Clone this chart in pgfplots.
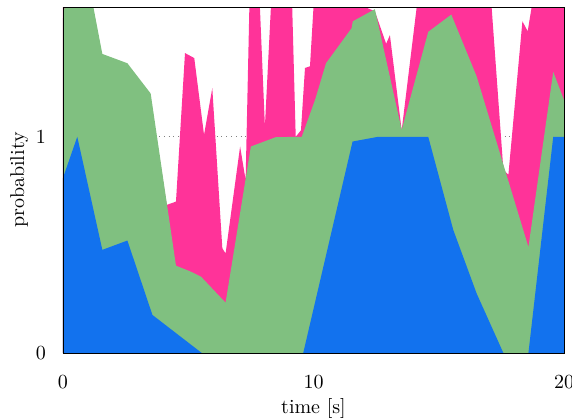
\documentclass[border=0pt]{standalone}
\usepackage{pgfplots}
\pgfplotsset{compat=1.18}
\definecolor{cblue}{RGB}{18,114,238}
\definecolor{cgreen}{RGB}{128,192,128}
\definecolor{cpink}{RGB}{255,51,153}
\begin{document}
\begin{tikzpicture}
\begin{axis}[
  scale only axis, width=250.5pt, height=173pt,
  xmin=0, xmax=20, ymin=0, ymax=1.6,
  xtick={0,10,20}, ytick={0,1},
  xlabel={time [s]}, ylabel={probability},
  xlabel style={yshift=2pt},
  ylabel style={yshift=-3pt},
  ymajorgrids, grid style={dotted, gray},
  tick style={draw=none},
  xticklabel style={yshift=-8pt},
  yticklabel style={xshift=-5pt},
  clip=true,
]
\addplot[fill=cpink, draw=none] coordinates {
 (0,1.65) (0.57,1.5) (1.57,1.3) (2.57,1.3) (3.45,1.205) (4.14,0.685) (4.51,0.70)
 (4.87,1.387) (5.24,1.364) (5.63,1.009) (5.96,1.225) (6.36,0.485) (6.49,0.46)
 (7.07,0.955) (7.29,0.80) (7.44,1.6) (7.86,1.6) (8.06,1.048) (8.3,1.6) (9.15,1.6)
 (9.29,1.0) (9.5,1.03) (9.66,1.318) (9.86,1.326) (10.0,1.6) (12.06,1.6) (12.45,1.58)
 (12.9,1.43) (13.05,1.47) (13.52,1.03) (14.12,1.6) (17.11,1.6) (17.58,0.847)
 (17.78,0.824) (18.34,1.534) (18.55,1.488) (18.71,1.6) (20,1.6)
} \closedcycle;
\addplot[fill=cgreen, draw=none] coordinates {
 (0,1.55) (0.57,1.99) (1.57,1.383) (2.57,1.34) (3.5,1.2) (4.51,0.404) (5.07,0.378)
 (5.51,0.353) (6.49,0.233) (7.5,0.955) (8.49,0.998) (9.53,1.0) (10.06,1.17)
 (10.5,1.34) (11.52,1.502) (11.57,1.534) (12.45,1.59) (13.52,1.032) (14.58,1.485)
 (15.5,1.565) (16.51,1.28) (18.58,0.49) (19.57,1.30) (20,1.17)
} \closedcycle;
\addplot[fill=cblue, draw=none] coordinates {
 (0,0.81) (0.57,1.0) (1.57,0.477) (2.57,0.52) (3.57,0.176) (5.54,0) (9.59,0)
 (11.56,0.978) (12.59,1.0) (14.58,1.0) (15.58,0.569) (16.51,0.276) (17.58,0)
 (18.58,0) (19.57,1.0) (20,1.0)
} \closedcycle;
\end{axis}
\draw[line width=0.4pt] (current axis.south west) rectangle (current axis.north east);
\pgfresetboundingbox
\path[use as bounding box] ([xshift=-31.5pt,yshift=-33pt]current axis.south west) rectangle ([xshift=4pt,yshift=3.5pt]current axis.north east);
\end{tikzpicture}
\end{document}
